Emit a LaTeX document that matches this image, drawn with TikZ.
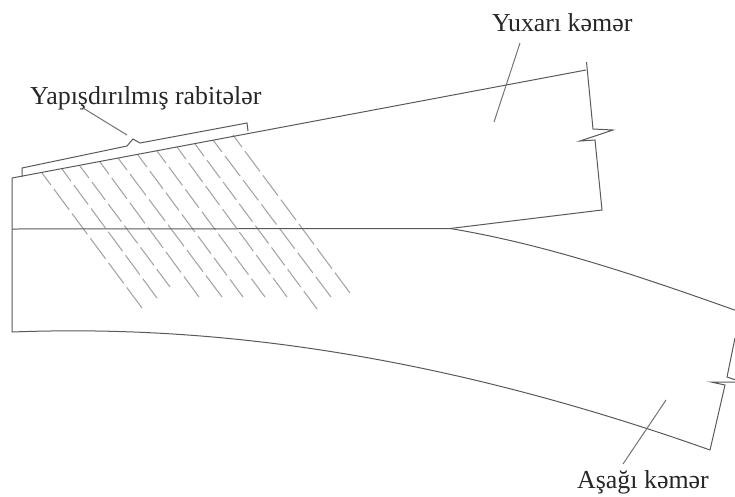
\documentclass[tikz,border=0pt]{standalone}
\usepackage{fontspec}
\setmainfont{Liberation Serif}
\tikzset{
  edge/.style={draw=black!65,line width=1pt,line join=miter},
  leader/.style={draw=black!55,line width=1pt},
  fibre/.style={draw=black!35,line width=1.1pt},
  lab/.style={inner sep=0pt,text=black!85,anchor=base west,font=\fontsize{25.9}{28}\selectfont}
}
\begin{document}
\begin{tikzpicture}[x=1pt,y=-1pt]
\useasboundingbox (0,0) rectangle (735,496);
% labels
\node[lab] (upper) at (492,31) {Yuxarı kəmər};
\node[lab] (bond) at (30,104) {Yapışdırılmış rabitələr};
\node[lab] (lower) at (577,488) {Aşağı kəmər};
% fibres
\foreach \a/\b/\c/\d in {42/173/142/308,62/169/157/298,80/166/170/287,100/162/199/297,118/158/222/297,138/155/243/297,157/151/265/297,177/147/287/297,195/144/317/309,213/140/331/297,233/135/350/293}{
  \pgfmathsetmacro{\len}{veclen(\c-\a,\d-\b)}
  \pgfmathsetmacro{\per}{(\len-15)/round((\len-15)/29)}
  \pgfmathsetmacro{\onl}{\per-5}
  \pgfmathsetmacro{\pha}{\onl-15}
  \draw[fibre,dash pattern=on \onl pt off 5pt,dash phase=\pha pt] (\a,\b) -- (\c,\d);
}
% named points
\coordinate (tl) at (12,178);
\coordinate (bl) at (12,332);
\coordinate (tip) at (450,228.5);
\coordinate (midl) at (12,229);
% upper part
\draw[edge] (bl) -- (tl) -- (586,70);
\draw[edge] (586.5,62) -- (593,129) -- (613,130) -- (580,141) -- (595,140) -- (602,210) -- (tip);
% split line
\draw[edge] (midl) -- (tip);
% lower part
\draw[edge] (tip) .. controls (550,245) and (650,280) .. (736,310.5);
\draw[edge] (735,338) -- (727,377) -- (736,380);
\draw[edge] (736,382) -- (711,382) -- (725,385) -- (710,450);
\draw[edge] (bl) .. controls (170,326) and (400,340) .. (710,450);
% bonded strip
\draw[edge] (22,177) -- (22,168) -- (127,146) -- (133,139) -- (140,143) -- (247,123) -- (248,131);
% leaders
\coordinate (bondend) at (127,135);
\coordinate (upperend) at (494,122);
\coordinate (lowerend) at (666,400);
\draw[leader] (83,108) -- (bondend);
\draw[leader] (520,43) -- (upperend);
\draw[leader] (623,464) -- (lowerend);
\end{tikzpicture}
\end{document}
